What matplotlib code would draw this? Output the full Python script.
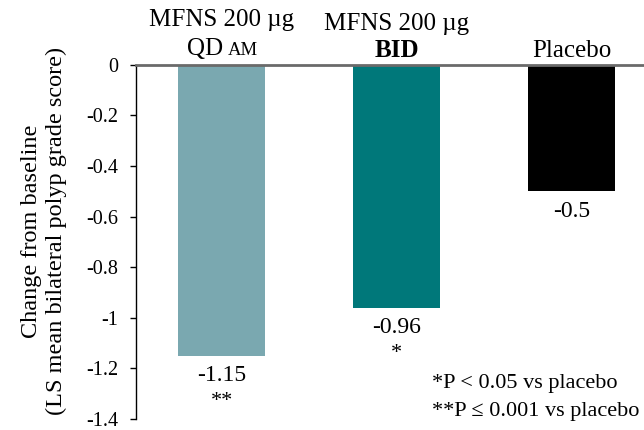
import matplotlib

matplotlib.use("Agg")
import matplotlib.pyplot as plt
import numpy as np

# Data
groups = ["QD", "BID", "Placebo"]
values = [-1.15, -0.96, -0.5]
value_labels = ["-1.15", "-0.96", "-0.5"]
signif = ["**", "*", ""]
yticks = [0, -0.2, -0.4, -0.6, -0.8, -1.0, -1.2, -1.4]
ytick_labels = ["0", "-0.2", "-0.4", "-0.6", "-0.8", "-1", "-1.2", "-1.4"]

COLORS = ["#7aa8b0", "#00787a", "#000000"]
SERIF = ["Liberation Serif", "DejaVu Serif"]

plt.rcParams["font.family"] = SERIF

fig = plt.figure(figsize=(6.44, 4.30), dpi=100)
ax = fig.add_axes([0.2112, 0.026, 0.7888, 0.823])

x = np.arange(len(groups))
ax.bar(x, values, width=0.5, color=COLORS, zorder=2)

ax.set_xlim(-0.489, 2.414)
ax.set_ylim(-1.4, 0)
ax.set_yticks(yticks)
ax.set_yticklabels(ytick_labels, fontsize=14.5)
ax.set_xticks([])
ax.tick_params(axis="y", direction="out", length=4, width=1, pad=9)

for s in ("right", "bottom"):
    ax.spines[s].set_visible(False)
ax.spines["left"].set_linewidth(1.0)
ax.spines["top"].set_color("#6a6a6a")
ax.spines["top"].set_linewidth(2.0)
ax.spines["top"].set_zorder(3)

# value labels under the bars
for xi, v, lab, sig in zip(x, values, value_labels, signif):
    ax.annotate(lab, (xi, v), xytext=(0, -7), textcoords="offset points",
                ha="center", va="top", fontsize=17)
    if sig:
        ax.annotate(sig, (xi, v), xytext=(0, -26), textcoords="offset points",
                    ha="center", va="top", fontsize=16)

# category labels above the axis
def top_text(xi, dy, s, dx=0, size=18, **kw):
    ax.annotate(s, (xi, 0), xytext=(dx, dy), textcoords="offset points",
                ha="center", va="baseline", fontsize=size,
                annotation_clip=False, **kw)

top_text(x[0], 28, "MFNS 200 \u00b5g")
top_text(x[0], 7, "QD", dx=-12)
top_text(x[0], 7, "AM", dx=15, size=13.5)
top_text(x[1], 25, "MFNS 200 \u00b5g")
top_text(x[1], 6, "BID", fontweight="bold")
top_text(x[2], 6, "Placebo")

fig.text(0.068, 0.463,
         "Change from baseline\n(LS mean bilateral polyp grade score)",
         rotation=90, ha="center", va="center", multialignment="center",
         fontsize=17.5, linespacing=1.2)

fig.text(0.671, 0.107, "*P < 0.05 vs placebo", fontsize=16, va="center")
fig.text(0.671, 0.044, "**P \u2264 0.001 vs placebo", fontsize=16, va="center")

fig.savefig("out.png", dpi=100)
